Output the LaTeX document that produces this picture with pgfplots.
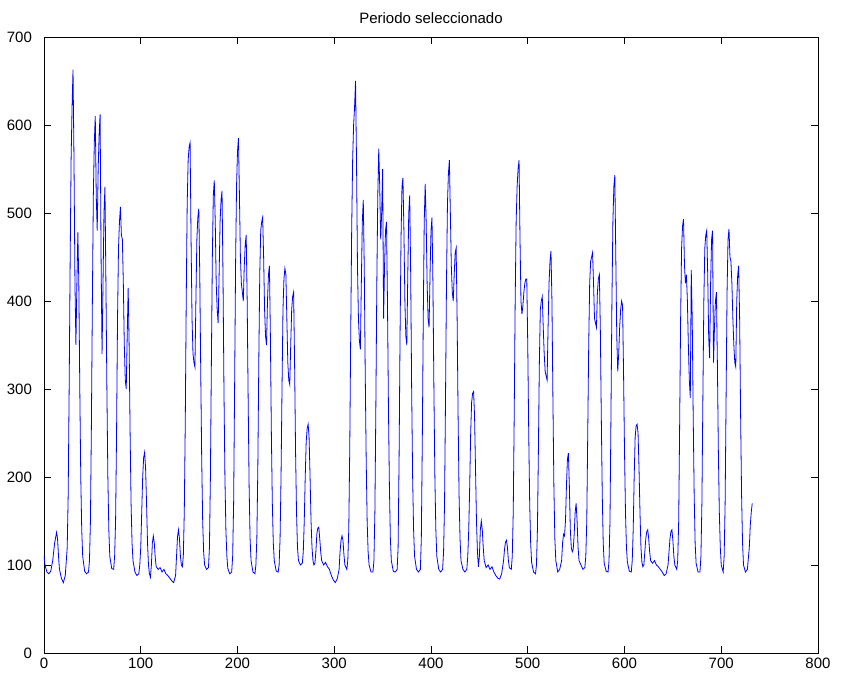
\documentclass[border=0pt]{standalone}
\usepackage{fontspec}
\setmainfont{Liberation Sans}
\usepackage{pgfplots}
\pgfplotsset{compat=1.18}
\usetikzlibrary{calc}

\pgfplotstableread{
x y
0 110
1 100
3 92
5 90
7 93
9 105
11 125
13 137
14 130
15 110
16 95
18 85
20 80
22 88
24 120
25 180
26 300
27 440
28 560
29 620
30 663
31 560
32 420
33 350
34 420
35 478
36 420
37 300
38 200
39 140
40 110
42 93
44 90
46 92
47 105
48 150
49 260
50 400
51 520
52 580
53 610
54 520
55 480
56 550
57 590
58 612
59 450
60 340
61 420
62 500
63 530
64 420
65 300
66 200
67 140
68 110
70 96
72 95
73 110
74 150
75 250
76 380
77 460
78 490
79 507
80 475
81 470
82 420
83 350
84 310
85 300
86 360
87 415
88 350
89 250
90 170
91 125
92 105
94 92
96 88
98 90
99 100
100 120
101 160
102 200
103 222
104 228
105 210
106 170
107 125
108 100
109 90
110 86
111 100
112 125
113 133
114 125
115 108
116 98
118 95
120 97
122 92
124 95
126 90
128 88
130 85
132 82
134 80
136 88
137 110
138 132
139 140
140 130
141 110
142 100
143 98
144 110
145 160
146 260
147 400
148 510
149 560
150 575
151 580
152 470
153 380
154 340
155 330
156 325
157 400
158 470
159 495
160 505
161 430
162 320
163 220
164 150
165 115
166 100
168 95
170 97
171 120
172 200
173 330
174 450
175 520
176 537
177 490
178 420
179 390
180 375
181 430
182 490
183 515
184 525
185 430
186 300
187 200
188 140
189 110
190 96
192 90
194 92
195 110
196 170
197 300
198 440
199 530
200 570
201 585
202 520
203 450
204 420
205 410
206 400
207 440
208 465
209 475
210 400
211 290
212 190
213 130
214 105
216 92
218 90
219 100
220 130
221 210
222 330
223 430
224 480
225 490
226 495
227 450
228 390
229 360
230 350
231 400
232 430
233 440
234 360
235 250
236 170
237 125
238 105
240 93
242 92
243 100
244 130
245 200
246 300
247 390
248 425
249 437
250 430
251 380
252 330
253 310
254 305
255 350
256 390
257 405
258 410
259 330
260 230
261 160
262 120
263 105
265 100
267 102
268 115
269 150
270 200
271 240
272 255
273 260
274 245
275 200
276 150
277 120
278 105
279 100
280 102
281 115
282 135
283 142
284 143
285 130
286 115
287 105
289 100
291 103
293 98
295 95
297 88
299 83
301 80
303 84
305 95
306 115
307 128
308 133
309 128
310 112
311 100
313 95
314 105
315 140
316 230
317 360
318 480
319 560
320 600
321 620
322 650
323 560
324 440
325 380
326 355
327 345
328 420
329 490
330 515
331 440
332 320
333 220
334 150
335 115
336 100
338 92
340 92
341 105
342 160
343 280
344 420
345 520
346 573
347 530
348 470
349 500
350 550
351 380
352 440
353 480
354 490
355 400
356 280
357 190
358 130
359 105
361 93
363 92
365 95
366 120
367 220
368 360
369 470
370 530
371 540
372 480
373 400
374 360
375 350
376 430
377 500
378 520
379 430
380 300
381 200
382 140
383 110
385 95
387 92
389 95
390 130
391 240
392 380
393 490
394 533
395 490
396 420
397 380
398 370
399 430
400 480
401 495
402 420
403 300
404 200
405 140
406 110
408 95
410 92
412 95
413 115
414 170
415 290
416 420
417 510
418 545
419 560
420 500
421 440
422 410
423 400
424 430
425 455
426 460
427 380
428 270
429 180
430 130
431 105
433 95
435 92
437 95
438 110
439 140
440 190
441 250
442 285
443 295
444 297
445 270
446 210
447 150
448 115
449 98
450 110
451 140
452 150
453 140
454 120
455 105
457 97
459 100
461 95
463 98
465 92
467 88
469 85
471 84
473 90
475 105
476 118
477 126
478 128
479 120
480 105
481 97
483 95
484 110
485 160
486 270
487 400
488 490
489 530
490 550
491 560
492 470
493 400
494 385
495 395
496 410
497 420
498 425
499 425
500 350
501 250
502 170
503 125
504 103
506 92
508 90
509 100
510 140
511 230
512 330
513 390
514 400
515 405
516 370
517 340
518 320
519 315
520 310
521 370
522 420
523 445
524 457
525 400
526 290
527 190
528 130
529 105
531 92
533 95
535 105
536 125
537 135
538 133
539 150
540 190
541 220
542 227
543 190
544 140
545 120
546 115
547 118
548 135
549 160
550 170
551 150
552 120
553 105
555 100
557 95
559 97
560 110
561 150
562 250
563 350
564 420
565 445
566 450
567 455
568 420
569 380
570 375
571 370
572 410
573 425
574 430
575 370
576 270
577 180
578 125
579 102
581 93
583 92
584 105
585 150
586 270
587 400
588 490
589 530
590 543
591 450
592 360
593 320
594 340
595 370
596 390
597 400
598 395
599 320
600 230
601 160
602 120
603 103
605 93
607 92
608 105
609 140
610 200
611 245
612 258
613 260
614 250
615 210
616 160
617 120
618 103
619 98
620 100
621 115
622 130
623 138
624 140
625 130
626 115
627 105
629 102
631 105
633 100
635 98
637 95
639 92
641 88
643 90
645 100
646 115
647 130
648 138
649 140
650 128
651 110
652 100
654 95
655 105
656 150
657 260
658 380
659 460
660 485
661 493
662 440
663 420
664 430
665 400
666 350
667 310
668 290
669 435
670 380
671 270
672 180
673 125
674 102
676 92
678 92
679 110
680 170
681 290
682 400
683 460
684 475
685 480
686 430
687 360
688 335
689 420
690 470
691 480
692 330
693 370
694 400
695 410
696 330
697 230
698 160
699 120
700 100
702 92
703 110
704 170
705 290
706 410
707 470
708 482
709 450
710 445
711 420
712 380
713 350
714 330
715 325
716 400
717 430
718 440
719 380
720 270
721 180
722 125
723 100
725 92
727 95
729 120
730 145
731 160
732 170
}\serie

\begin{document}
\begin{tikzpicture}
\begin{axis}[
    name=ax,
    scale only axis,
    width=387pt, height=308pt,
    xmin=0, xmax=800,
    ymin=0, ymax=700,
    xtick={0,100,...,800},
    ytick={0,100,...,700},
    tick align=inside,
    major tick length=3.5pt,
    axis line style={line width=0.4pt},
    tick style={line width=0.4pt, black},
    /pgf/number format/assume math mode=true,
    tick label style={font=\fontsize{7.5}{9}\selectfont},
    yticklabel style={xshift=-2.5pt},
    xticklabel style={yshift=1pt},
    title={Periodo seleccionado},
    title style={at={(0.5,1)}, anchor=base, yshift=0.8pt, font=\fontsize{7.5}{9}\selectfont},
]
\addplot[blue, line width=0.4pt, mark=none] table[x=x, y=y] {\serie};
\end{axis}
\pgfresetboundingbox
\path[use as bounding box] ($(ax.south west)+(-22pt,-13.5pt)$) rectangle ($(ax.north east)+(13.5pt,18.5pt)$);
\end{tikzpicture}
\end{document}
